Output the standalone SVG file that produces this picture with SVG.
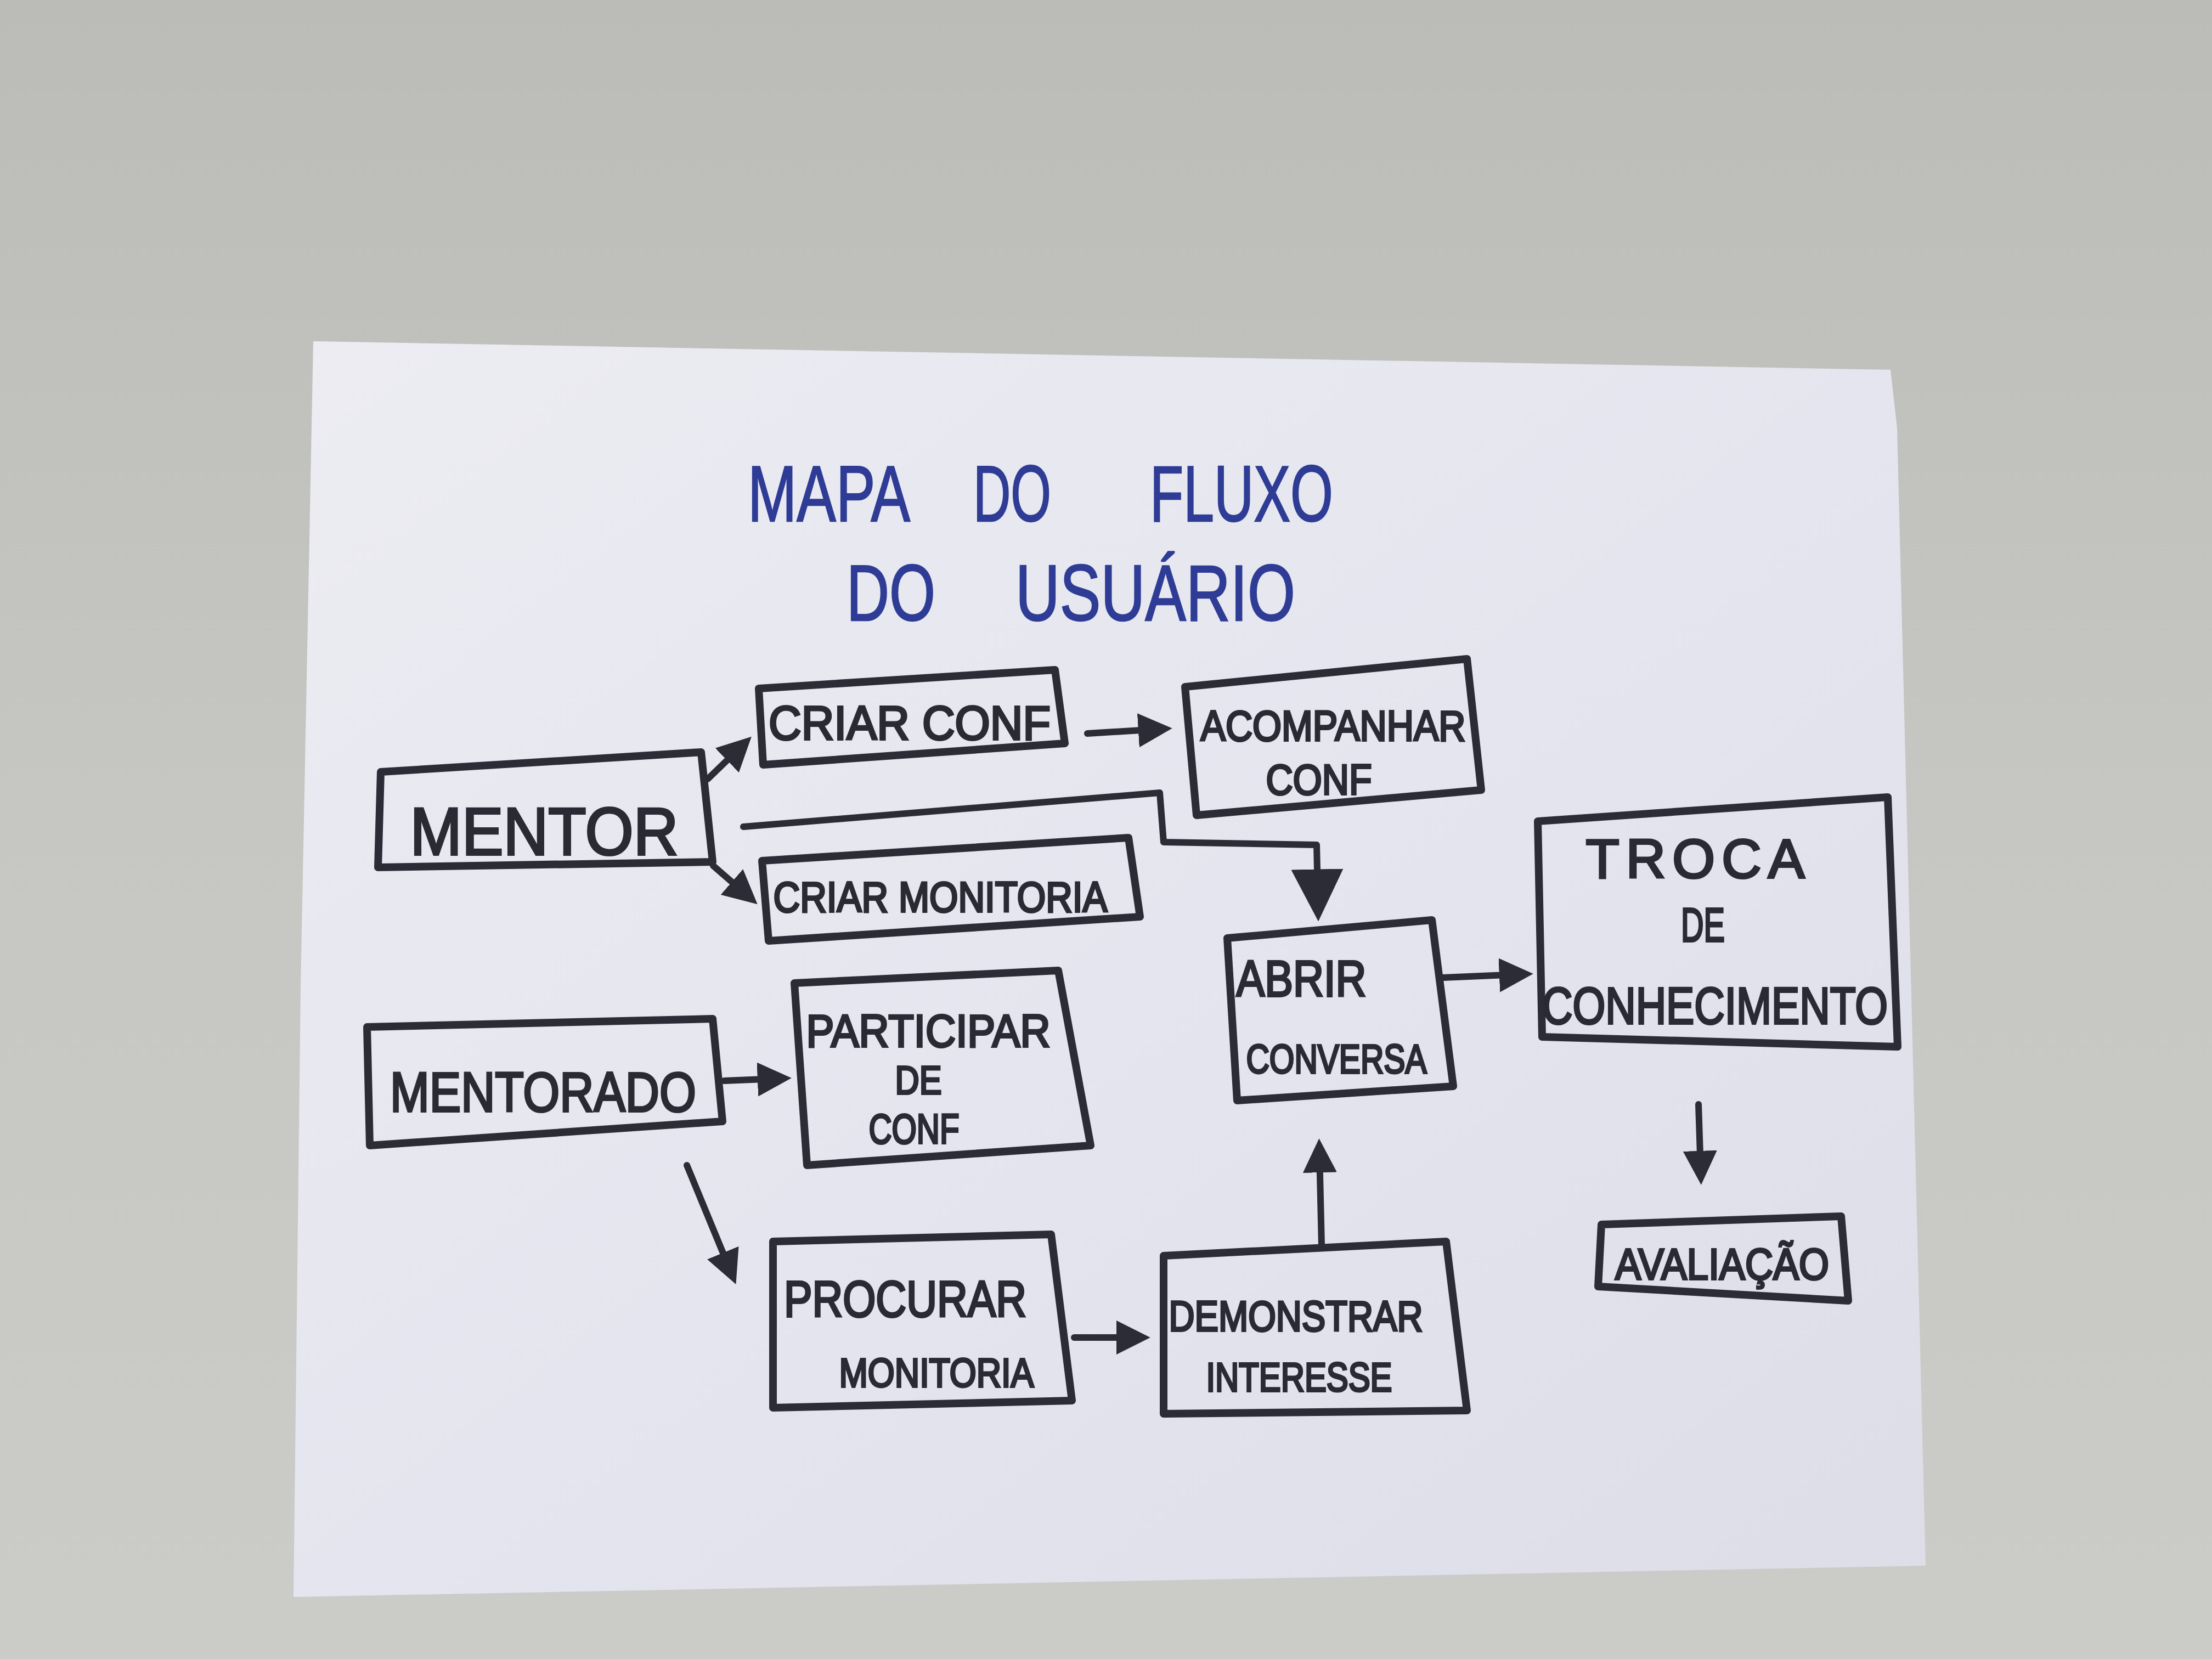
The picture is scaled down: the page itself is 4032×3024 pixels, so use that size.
<svg xmlns="http://www.w3.org/2000/svg" width="4032" height="3024" viewBox="0 0 4032 3024">
<defs>
<linearGradient id="wall" x1="0" y1="0" x2="0" y2="1">
<stop offset="0" stop-color="#bbbcb7"/>
<stop offset="0.5" stop-color="#c6c7c2"/>
<stop offset="1" stop-color="#cbccc7"/>
</linearGradient>
<linearGradient id="paper" x1="0" y1="0" x2="1" y2="1">
<stop offset="0" stop-color="#ececf2"/>
<stop offset="0.5" stop-color="#e4e5ee"/>
<stop offset="1" stop-color="#dcdde7"/>
</linearGradient>
<marker id="ah" viewBox="0 0 10 10" refX="6" refY="5" markerWidth="62" markerHeight="62" markerUnits="userSpaceOnUse" orient="auto">
<path d="M0,0 L10,5 L0,10 z" fill="#2c2c36"/>
</marker>
<marker id="ahBig" viewBox="0 0 10 10" refX="5" refY="5" markerWidth="95" markerHeight="95" markerUnits="userSpaceOnUse" orient="auto">
<path d="M0,0 L10,5 L0,10 z" fill="#2c2c36"/>
</marker>
</defs>
<style>
.box{fill:none;stroke:#2c2c36;stroke-width:14;stroke-linejoin:round;stroke-linecap:round}
.lbl{font-family:"Liberation Sans","DejaVu Sans",sans-serif;fill:#2a2a34;stroke:#2a2a34;stroke-width:4;text-anchor:middle}
.ttl{font-family:"Liberation Sans","DejaVu Sans",sans-serif;fill:#2f3c96;stroke:#2f3c96;stroke-width:2.5;text-anchor:middle}
.con{fill:none;stroke:#2c2c36;stroke-width:12;stroke-linecap:round;stroke-linejoin:round}
</style>
<rect x="0" y="0" width="4032" height="3024" fill="url(#wall)"/>
<polygon points="571,622 3446,674 3458,780 3510,2854 535,2911 548,1800" fill="url(#paper)"/>

<g id="title">
<text class="ttl" x="1511" y="950" font-size="145" textLength="296" lengthAdjust="spacingAndGlyphs">MAPA</text>
<text class="ttl" x="1845" y="950" font-size="145" textLength="142" lengthAdjust="spacingAndGlyphs">DO</text>
<text class="ttl" x="2263" y="950" font-size="145" textLength="334" lengthAdjust="spacingAndGlyphs">FLUXO</text>
<text class="ttl" x="1624" y="1131" font-size="145" textLength="162" lengthAdjust="spacingAndGlyphs">DO</text>
<text class="ttl" x="2106" y="1131" font-size="145" textLength="510" lengthAdjust="spacingAndGlyphs">USUÁRIO</text>
</g>

<g id="connectors">
<line class="con" x1="1290" y1="1420" x2="1352" y2="1360" marker-end="url(#ah)"/>
<line class="con" x1="1300" y1="1578" x2="1362" y2="1632" marker-end="url(#ah)"/>
<line class="con" x1="1982" y1="1337" x2="2112" y2="1329" marker-end="url(#ah)"/>
<polyline class="con" points="1355,1507 2114,1445 2121,1535 2400,1540 2402,1632" marker-end="url(#ahBig)"/>
<line class="con" x1="2630" y1="1782" x2="2770" y2="1776" marker-end="url(#ah)"/>
<line class="con" x1="1320" y1="1970" x2="1418" y2="1966" marker-end="url(#ah)"/>
<line class="con" x1="1252" y1="2124" x2="1332" y2="2318" marker-end="url(#ah)"/>
<line class="con" x1="1958" y1="2438" x2="2072" y2="2438" marker-end="url(#ah)"/>
<line class="con" x1="2409" y1="2270" x2="2405" y2="2100" marker-end="url(#ah)"/>
<line class="con" x1="3096" y1="2013" x2="3100" y2="2135" marker-end="url(#ah)"/>
</g>

<g id="mentor">
<polygon class="box" points="694,1407 1278,1371 1299,1571 689,1581"/>
<text class="lbl" x="992" y="1558" font-size="122" textLength="489" lengthAdjust="spacingAndGlyphs">MENTOR</text>
</g>

<g id="criar-conf">
<polygon class="box" points="1383,1255 1923,1221 1941,1355 1391,1394"/>
<text class="lbl" x="1658" y="1348" font-size="88" textLength="514" lengthAdjust="spacingAndGlyphs">CRIAR CONF</text>
</g>

<g id="acompanhar-conf">
<polygon class="box" points="2160,1252 2674,1201 2700,1440 2181,1486"/>
<text class="lbl" x="2430" y="1350" font-size="78" textLength="483" lengthAdjust="spacingAndGlyphs">ACOMPANHAR</text>
<text class="lbl" x="2404" y="1448" font-size="78" textLength="193" lengthAdjust="spacingAndGlyphs">CONF</text>
</g>

<g id="criar-monitoria">
<polygon class="box" points="1389,1569 2057,1527 2078,1671 1401,1715"/>
<text class="lbl" x="1714" y="1662" font-size="78" textLength="609" lengthAdjust="spacingAndGlyphs">CRIAR MONITORIA</text>
</g>

<g id="mentorado">
<polygon class="box" points="669,1872 1299,1857 1317,2044 674,2088"/>
<text class="lbl" x="990" y="2026" font-size="102" textLength="558" lengthAdjust="spacingAndGlyphs">MENTORADO</text>
</g>

<g id="participar-de-conf">
<polygon class="box" points="1448,1792 1929,1769 1988,2088 1471,2124"/>
<text class="lbl" x="1692" y="1908" font-size="84" textLength="445" lengthAdjust="spacingAndGlyphs">PARTICIPAR</text>
<text class="lbl" x="1674" y="1994" font-size="72" textLength="85" lengthAdjust="spacingAndGlyphs">DE</text>
<text class="lbl" x="1666" y="2084" font-size="76" textLength="165" lengthAdjust="spacingAndGlyphs">CONF</text>
</g>

<g id="procurar-monitoria">
<polygon class="box" points="1409,2263 1916,2250 1954,2553 1409,2566"/>
<text class="lbl" x="1650" y="2400" font-size="92" textLength="442" lengthAdjust="spacingAndGlyphs">PROCURAR</text>
<text class="lbl" x="1707" y="2528" font-size="74" textLength="355" lengthAdjust="spacingAndGlyphs">MONITORIA</text>
</g>

<g id="demonstrar-interesse">
<polygon class="box" points="2121,2289 2636,2263 2674,2571 2121,2577"/>
<text class="lbl" x="2362" y="2426" font-size="78" textLength="463" lengthAdjust="spacingAndGlyphs">DEMONSTRAR</text>
<text class="lbl" x="2368" y="2536" font-size="74" textLength="339" lengthAdjust="spacingAndGlyphs">INTERESSE</text>
</g>

<g id="abrir-conversa">
<polygon class="box" points="2237,1710 2610,1677 2649,1980 2255,2006"/>
<text class="lbl" x="2372" y="1816" font-size="92" textLength="237" lengthAdjust="spacingAndGlyphs">ABRIR</text>
<text class="lbl" x="2436" y="1956" font-size="74" textLength="329" lengthAdjust="spacingAndGlyphs">CONVERSA</text>
</g>

<g id="troca-de-conhecimento">
<polygon class="box" points="2803,1497 3441,1453 3459,1908 2811,1890"/>
<text class="lbl" x="3090" y="1600" font-size="100" textLength="399" lengthAdjust="spacing">TROCA</text>
<text class="lbl" x="3104" y="1716" font-size="88" textLength="80" lengthAdjust="spacingAndGlyphs">DE</text>
<text class="lbl" x="3126" y="1866" font-size="94" textLength="630" lengthAdjust="spacingAndGlyphs">CONHECIMENTO</text>
</g>

<g id="avaliacao">
<polygon class="box" points="2919,2232 3356,2217 3369,2371 2913,2345"/>
<text class="lbl" x="3139" y="2332" font-size="80" textLength="390" lengthAdjust="spacingAndGlyphs">AVALIAÇÃO</text>
</g>
</svg>
